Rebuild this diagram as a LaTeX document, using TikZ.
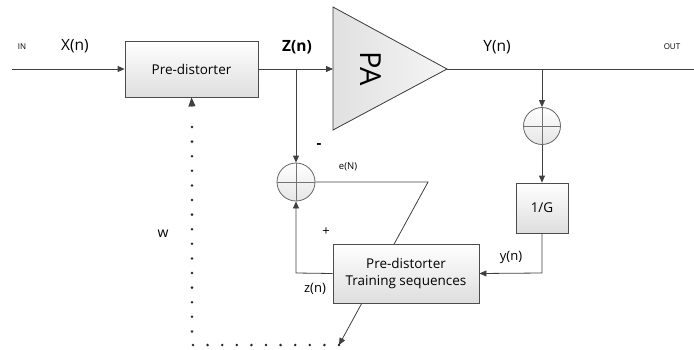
\documentclass[tikz,border=0pt]{standalone}
\usepackage{fontspec}
\setmainfont{Open Sans}
\usetikzlibrary{arrows.meta,backgrounds}
\begin{document}
\begin{tikzpicture}[x=1pt,y=-1pt,
  line/.style={draw=black!75, line width=0.8pt},
  arr/.style={line, -{Triangle[length=7pt,width=6pt]}},
  blk/.style={draw=black!70, line width=0.8pt, top color=white, bottom color=black!13,
              inner sep=0pt, align=center, font=\fontsize{13.5}{17}\selectfont},
  sumc/.style={circle, draw=black!60, line width=0.8pt, top color=white, bottom color=black!10,
               minimum size=38pt, inner sep=0pt},
  lbl/.style={inner sep=0pt, font=\fontsize{15.5}{17}\selectfont},
  small/.style={inner sep=0pt, font=\fontsize{8}{9}\selectfont},
  mid/.style={inner sep=0pt, font=\fontsize{13}{14}\selectfont},
  dots/.style={draw=black!85, line width=2.8pt, line cap=round, dash pattern=on 0pt off 14.6pt}
]
\useasboundingbox (0,0) rectangle (694,349);

% blocks
\node[blk, minimum width=133pt, minimum height=56pt] (pre) at (191.5,69) {Pre-distorter};
\node[blk, minimum width=146pt, minimum height=59pt] (train) at (406,273.5) {Pre-distorter\\Training sequences};
\node[blk, minimum width=52pt, minimum height=50pt] (g) at (542,208) {1/G};
\node[sumc] (s1) at (296,182) {};
\node[sumc, minimum size=37pt] (s2) at (542,126) {};
\draw[line, draw=black!55] (s1.west) -- (s1.east) (s1.north) -- (s1.south);
\draw[line, draw=black!55] (s2.west) -- (s2.east) (s2.north) -- (s2.south);

% PA triangle
\coordinate (paL) at (333,69);
\coordinate (paR) at (447,69);
\filldraw[draw=black!75, line width=0.8pt, left color=black!12, right color=black!4]
  (333,7) -- (paR) -- (333,130) -- cycle;
\node[inner sep=0pt, rotate=-90, font=\fontsize{29}{30}\selectfont] (pa) at (371,69) {PA};

% coordinates
\coordinate (in) at (12,69);
\coordinate (out) at (694,69);
\coordinate (zb) at (296,69);
\coordinate (yb) at (542,69);
\coordinate (gb) at (542,273);
\coordinate (fb) at (296,273);
\coordinate (ek) at (428,182);
\coordinate (ae) at (339,345);
\coordinate (wc) at (192,345);
\coordinate (wt) at (192,120);
\coordinate (wa) at (192,107);

% signal path
\draw[arr] (in) -- (pre.west);
\draw[arr] (pre.east) -- (paL);
\draw[line] (paR) -- (out);
\draw[arr] (zb) -- (s1.north);
\draw[arr] (yb) -- (s2.north);
\draw[arr] (s2.south) -- (g.north);
\draw[arr] (g.south) -- (gb) -- (train.east);
\draw[arr] (train.west) -- (fb) -- (s1.south);

% adaptation line through training block
\begin{scope}[on background layer]
\draw[arr] (s1.east) -- (ek) -- (ae);
\end{scope}

% dotted coefficient path
\draw[dots] (ae) -- (wc) -- (wt);
\draw[line, -{Triangle[length=9pt,width=7pt]}] (wa) -- (pre.south);

% labels
\node[small] (lin) at (22,47) {IN};
\node[lbl] (lx) at (75,46) {X(n)};
\node[lbl, font=\fontsize{15.5}{17}\selectfont\bfseries] (lz) at (297,47) {Z(n)};
\node[lbl] (ly) at (497,47) {Y(n)};
\node[small] (lout) at (672,47) {OUT};
\node[inner sep=0pt, font=\fontsize{15}{16}\selectfont\bfseries] (lminus) at (319,146) {-};
\node[inner sep=0pt, font=\fontsize{9.5}{10}\selectfont] (le) at (348,167) {e(N)};
\node[mid] (lplus) at (326,232) {+};
\node[mid] (lzs) at (315,289) {z(n)};
\node[mid] (lys) at (511,257) {y(n)};
\node[mid, font=\fontsize{14}{15}\selectfont] (lw) at (163,234) {w};
\end{tikzpicture}
\end{document}
